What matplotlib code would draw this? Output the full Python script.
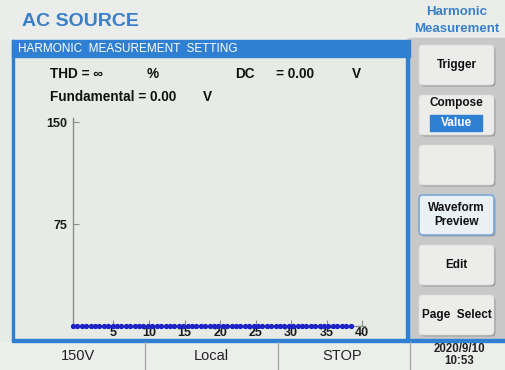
"""AC source harmonic measurement screen, redrawn with matplotlib"""

import matplotlib
matplotlib.use('Agg')
from matplotlib import pyplot as plt
from matplotlib.patches import Rectangle, FancyBboxPatch

plt.rcParams['font.family'] = ['Liberation Sans', 'DejaVu Sans']

# harmonic spectrum data (all orders read as zero)
dot_positions = [-0.7 + 0.62 * i for i in range(64)]
magnitudes = [0.0] * 64
x_ticks = [5, 10, 15, 20, 25, 30, 35, 40]
y_ticks = [75, 150]

# screen texts
title = 'AC SOURCE'
page_name = ['Harmonic', 'Measurement']
bar_title = 'HARMONIC  MEASUREMENT  SETTING'
buttons = ['Trigger', 'Compose', '', 'Waveform\nPreview', 'Edit', 'Page  Select']
status = ['150V', 'Local', 'STOP']
date_text = ['2020/9/10', '10:53']

BG = '#e7ebe6'
BLUE = '#2f7fd2'
TITLE_BLUE = '#3b7fc8'
PANEL = '#c8c8c8'

fig = plt.figure(figsize=(5.06, 3.70), dpi=100)
fig.patch.set_facecolor(BG)

# full-figure canvas in pixel coordinates
bg = fig.add_axes([0, 0, 1, 1])
bg.set_xlim(0, 506)
bg.set_ylim(370, 0)
bg.axis('off')

# header
bg.add_patch(Rectangle((0, 0), 506, 40, color='#eaede9', zorder=0))
bg.text(22, 21, title, color=TITLE_BLUE, fontsize=14, fontweight='bold',
        va='center', ha='left')
bg.text(457, 12, page_name[0], color=TITLE_BLUE, fontsize=9.5, fontweight='bold',
        ha='center', va='center')
bg.text(457, 29, page_name[1], color=TITLE_BLUE, fontsize=9.5, fontweight='bold',
        ha='center', va='center')

# right grey panel
bg.add_patch(Rectangle((409, 38), 97, 303, color=PANEL, zorder=0))

# main panel frame
bg.add_patch(Rectangle((12, 40), 398, 17, color=BLUE, zorder=1))
bg.add_patch(Rectangle((12, 40), 2.5, 301, color=BLUE, zorder=1))
bg.add_patch(Rectangle((406, 40), 3.5, 301, color=BLUE, zorder=1))
bg.add_patch(Rectangle((12, 339), 494, 2.5, color=BLUE, zorder=1))
bg.text(18, 49.5, bar_title, color='white', fontsize=8.5, ha='left', va='center')

# measurement readouts
txt = dict(fontsize=9.8, fontweight='bold', color='#111111', va='center')
bg.text(50, 74, 'THD = \u221e', ha='left', **txt)
bg.text(147, 74, '%', ha='left', **txt)
bg.text(235, 74, 'DC', ha='left', **txt)
bg.text(276, 74, '= 0.00', ha='left', **txt)
bg.text(352, 74, 'V', ha='left', **txt)
bg.text(50, 97, 'Fundamental = 0.00', ha='left', **txt)
bg.text(203, 97, 'V', ha='left', **txt)

# soft keys
key_tops = [45, 95, 145, 195, 245, 295]
for top, label in zip(key_tops, buttons):
    bg.add_patch(FancyBboxPatch((420.5, top + 1.5), 75, 40,
                                boxstyle='round,pad=0,rounding_size=4',
                                fc='#9c9c9c', ec='none', zorder=2))
    selected = label.startswith('Waveform')
    bg.add_patch(FancyBboxPatch((419, top), 75, 40,
                                boxstyle='round,pad=0,rounding_size=4',
                                fc='#e9f0f6' if selected else '#ecedeb',
                                ec='#7aa6d6' if selected else '#dcdcdc',
                                lw=1.2 if selected else 0.6, zorder=3))
    if label == 'Compose':
        bg.text(456.5, top + 8, label, ha='center', va='center', fontsize=8.5,
                fontweight='bold', color='#111111', zorder=4)
        bg.add_patch(Rectangle((430, top + 20), 52, 16, color=BLUE, zorder=4))
        bg.text(456, top + 28, 'Value', ha='center', va='center', fontsize=8.5,
                fontweight='bold', color='white', zorder=5)
    elif label:
        bg.text(456.5, top + 20, label, ha='center', va='center', fontsize=8.5,
                fontweight='bold', color='#111111', linespacing=1.15, zorder=4)

# status bar
bg.add_patch(Rectangle((0, 341.5), 506, 28.5, color='#eceeec', zorder=0))
for xs in (145, 278, 410):
    bg.plot([xs, xs], [342, 370], color='#a5a5a5', lw=0.9, zorder=1)
for cx, label in zip((78, 211, 342), status):
    bg.text(cx, 356, label, ha='center', va='center', fontsize=10.5,
            color='#222222')
bg.text(459, 349, date_text[0], ha='center', va='center', fontsize=8.3,
        fontweight='bold', color='#222222')
bg.text(459, 361.5, date_text[1], ha='center', va='center', fontsize=8.3,
        fontweight='bold', color='#222222')

# spectrum chart
ax = fig.add_axes([73 / 506, (370 - 326) / 370, 292 / 506, 208 / 370])
ax.patch.set_alpha(0)
ax.set_xlim(-0.7, 40.4)
ax.set_ylim(0, 153)
for side in ('top', 'right'):
    ax.spines[side].set_visible(False)
for side in ('left', 'bottom'):
    ax.spines[side].set_color('#8c8c8c')
    ax.spines[side].set_linewidth(1)
ax.set_xticks(x_ticks)
ax.set_yticks(y_ticks)
ax.tick_params(direction='in', length=4, color='#8c8c8c', width=0.8,
               labelsize=9, labelcolor='#1a1a1a')
ax.tick_params(axis='x', pad=1)
ax.tick_params(axis='y', pad=4)
for lab in ax.get_xticklabels() + ax.get_yticklabels():
    lab.set_fontweight('bold')
ax.plot(dot_positions, magnitudes, linestyle='none', marker='o', markersize=2.8,
        color='#1c22c8', clip_on=False, zorder=5)

fig.savefig('out.png', dpi=100, facecolor=fig.get_facecolor())
